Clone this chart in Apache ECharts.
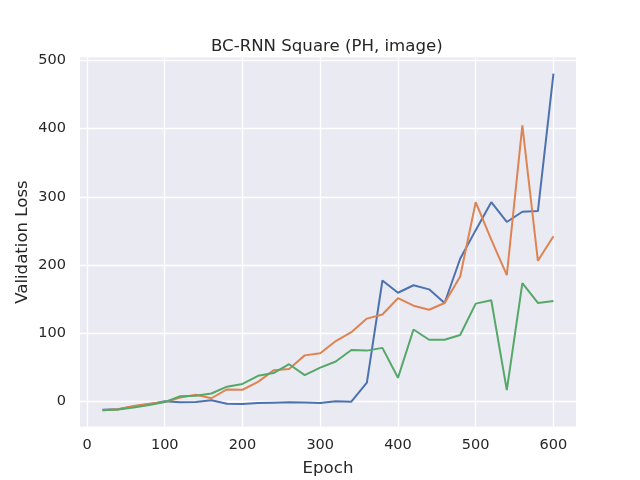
<!DOCTYPE html>
<html>
<head>
<meta charset="utf-8">
<script src="https://cdn.jsdelivr.net/npm/echarts@6/dist/echarts.min.js"></script>
<style>html,body{margin:0;padding:0;background:#fff}#c{width:640px;height:480px}</style>
</head>
<body>
<div id="c"></div>
<script>
const epochs = [20,40,60,80,100,120,140,160,180,200,220,240,260,280,300,320,340,360,380,400,420,440,460,480,500,520,540,560,580,600];
const seriesA = [-13,-12,-8,-5,-0.5,-2,-1.5,1,-4,-4.5,-3,-2.5,-2,-2.3,-3,-0.5,-1,27,177,159,170,164,144,209,251,292,263,278,279,481];
const seriesB = [-13.5,-12,-7.5,-4,-1.6,5,9,4,17,16.5,28,45,47,67,70,88,101,121,127,151,140,134,144,183,292,237,185,405,206,242];
const seriesC = [-13.5,-12.5,-9.5,-6,-1.6,7,7.6,11,21,25,37,41,54,38,49,58,75,74,78,34,105,90,90,97,143,148,16,173,144,147];
const xTicks = [0,100,200,300,400,500,600];
const yTicks = [0,100,200,300,400,500];

const chart = echarts.init(document.getElementById('c'));
const font = 'DejaVu Sans';
const txt = '#262626';
function mk(name, vals, color){
  return {name, type:'line', data: epochs.map((e,i)=>[e, vals[i]]), showSymbol:false, symbol:'none',
    lineStyle:{color, width:2}, itemStyle:{color}, z: 3, clip: true, animation:false};
}
chart.setOption({
  animation:false,
  backgroundColor:'#ffffff',
  title:{text:'BC-RNN Square (PH, image)', left:211, top:38, padding:0, textStyle:{fontFamily:font, fontSize:16.6, fontWeight:'normal', color:txt}},
  grid:{left:80, right:64, top:57.6, bottom:53.5, show:true, backgroundColor:'#eaeaf2', borderWidth:0, containLabel:false, outerBoundsMode:'none'},
  xAxis:{type:'value', min:-9, max:629,
    name:'Epoch', nameLocation:'middle', nameGap:34, nameMoveOverlap:false, nameTextStyle:{fontFamily:font, fontSize:16.6, color:txt},
    axisLine:{show:false}, axisTick:{show:false, customValues:xTicks},
    axisLabel:{fontFamily:font, fontSize:14.5, color:txt, margin:11, customValues:xTicks},
    splitLine:{show:true, lineStyle:{color:'#ffffff', width:1.3}}},
  yAxis:{type:'value', min:-37.5, max:504.5,
    name:'Validation Loss', nameLocation:'middle', nameGap:49, nameMoveOverlap:false, nameTextStyle:{fontFamily:font, fontSize:16.6, color:txt},
    axisLine:{show:false}, axisTick:{show:false, customValues:yTicks},
    axisLabel:{fontFamily:font, fontSize:14.5, color:txt, margin:14, customValues:yTicks},
    splitLine:{show:true, lineStyle:{color:'#ffffff', width:1.3}}},
  series:[mk('A', seriesA, '#4c72b0'), mk('B', seriesB, '#dd8452'), mk('C', seriesC, '#55a868')]
});
</script>
</body>
</html>
